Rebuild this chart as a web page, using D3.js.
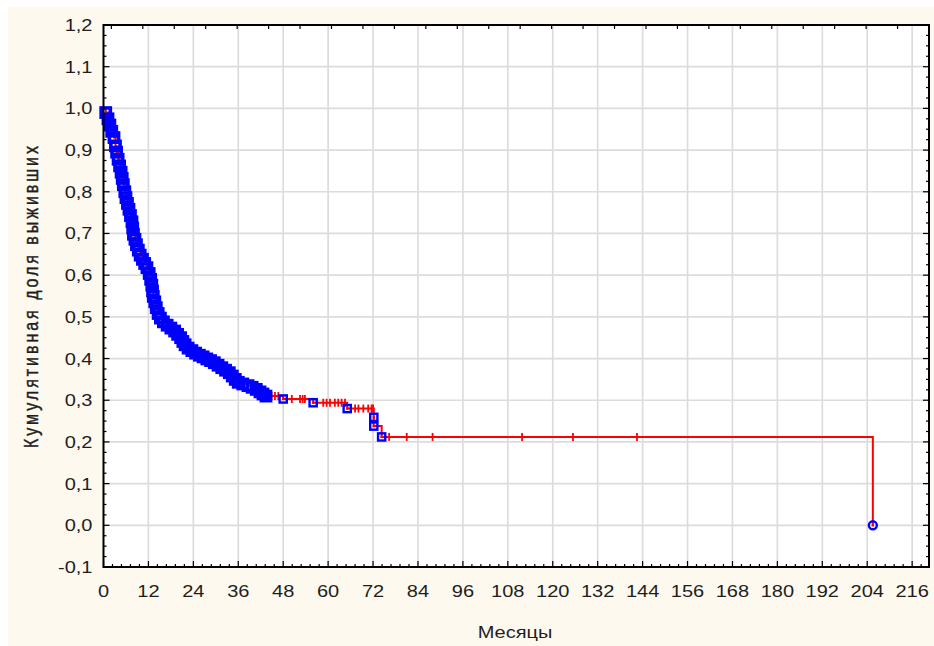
<!DOCTYPE html>
<html><head><meta charset="utf-8">
<script src="https://cdn.jsdelivr.net/npm/d3@7"></script>
<style>body{margin:0;background:#fff}svg{display:block}text{font-family:"Liberation Sans",Arial,sans-serif;fill:#1e1e1e}</style>
</head><body>
<svg id="c" width="934" height="646"></svg>
<script>
// ---- data ----
const xTicks = [0,12,24,36,48,60,72,84,96,108,120,132,144,156,168,180,192,204,216];
const yTicks = [-0.1,0,0.1,0.2,0.3,0.4,0.5,0.6,0.7,0.8,0.9,1.0,1.1,1.2];
const xTitle = "Месяцы";
const yTitle = "Кумулятивная доля выживших";
// complete (event) observations: time in months, cumulative survival after event
const eventTimes = [0.6,1.2,1.7,2.2,2.8,3.2,3.5,3.9,4.3,4.7,5.0,5.3,5.7,6.0,6.4,6.8,7.2,7.6,7.8,8.0,8.4,8.8,9.3,9.8,10.4,11.0,11.6,12.2,12.6,12.9,13.1,13.3,13.7,14.1,14.6,15.2,16.0,17.0,18.0,19.0,19.8,20.6,21.2,21.8,22.6,23.6,24.6,25.6,26.6,27.6,28.6,29.6,30.6,31.6,32.6,33.6,34.4,35.2,36.0,37.2,38.6,39.7,40.8,41.8,42.6,43.4,48.0,56.0,65.1,72.2,72.2,74.3,205.5];
const eventSurv  = [0.99,0.975,0.96,0.945,0.93,0.91,0.895,0.878,0.862,0.847,0.832,0.817,0.80,0.786,0.772,0.758,0.743,0.728,0.713,0.698,0.686,0.673,0.66,0.648,0.638,0.628,0.618,0.604,0.59,0.576,0.562,0.549,0.536,0.522,0.508,0.497,0.488,0.48,0.473,0.466,0.458,0.45,0.441,0.433,0.425,0.419,0.413,0.408,0.404,0.399,0.395,0.39,0.384,0.378,0.372,0.366,0.358,0.35,0.343,0.339,0.335,0.331,0.326,0.32,0.315,0.31,0.303,0.294,0.28,0.259,0.238,0.212,0.0];
// censored observations: time in months
const censorTimes = [44.9,45.8,46.7,50.3,52.5,53.2,53.8,58.7,59.6,60.5,61.8,62.7,63.6,64.5,67.2,68.1,69.4,70.7,71.6,72.0,76.3,81.0,87.9,111.8,125.4,142.5];

// ---- layout ----
const svg = d3.select("#c");
const L = 103.5, R = 929, T = 25, B = 567;
const x = d3.scaleLinear().domain([0, 220.5]).range([L, R]);
const y = d3.scaleLinear().domain([-0.1, 1.2]).range([B, T]);
const cream = "#fdf9ee";

svg.append("rect").attr("x",8).attr("y",7).attr("width",926).attr("height",639).attr("fill",cream);
svg.append("rect").attr("x",L).attr("y",T).attr("width",R-L).attr("height",B-T).attr("fill","#fff");

// grid
const grid = svg.append("g").attr("stroke","#dcdcdc").attr("stroke-width",1.7);
grid.selectAll("line.v").data(xTicks.filter(d=>d>0)).join("line")
  .attr("x1",d=>x(d)).attr("x2",d=>x(d)).attr("y1",T).attr("y2",B);
grid.selectAll("line.h").data(yTicks.filter(d=>d>-0.1 && d<1.2)).join("line")
  .attr("y1",d=>y(d)).attr("y2",d=>y(d)).attr("x1",L).attr("x2",R);

// frame ticks
const tk = svg.append("g").attr("stroke","#000").attr("stroke-width",1.2);
const yMinor = d3.range(-0.1, 1.2001, 0.025);
yMinor.forEach(v=>{
  const major = Math.abs(Math.round(v*10)-v*10) < 1e-6;
  const len = major ? 6 : 3;
  tk.append("line").attr("x1",L).attr("x2",L+len).attr("y1",y(v)).attr("y2",y(v));
  tk.append("line").attr("x1",R).attr("x2",R-len).attr("y1",y(v)).attr("y2",y(v));
});
const xMinor = d3.range(0, 220.5, 2.4);
xMinor.forEach(v=>{
  const major = Math.abs(v/12 - Math.round(v/12)) < 1e-6;
  const len = major ? 6 : 3;
  tk.append("line").attr("x1",x(v)).attr("x2",x(v)).attr("y1",B).attr("y2",B-len);
});
// secondary top scale ticks
const x2 = d3.scaleLinear().domain([-0.25, 26]).range([L, R]);
d3.range(0, 26).forEach(k=>{
  tk.append("line").attr("x1",x2(k)).attr("x2",x2(k)).attr("y1",T).attr("y2",T+4);
});

// KM step line
let pts = [[0,1]];
let prev = 1;
eventTimes.forEach((t,i)=>{ pts.push([t,prev]); pts.push([t,eventSurv[i]]); prev = eventSurv[i]; });
const line = d3.line().x(d=>x(d[0])).y(d=>y(d[1]));
svg.append("path").attr("d",line(pts)).attr("fill","none").attr("stroke","#ff0000").attr("stroke-width",2);

function survAt(t){ let s=1; eventTimes.forEach((e,i)=>{ if(e<=t) s=eventSurv[i]; }); return s; }

// censored marks
svg.append("g").selectAll("line").data(censorTimes).join("line")
  .attr("x1",d=>x(d)).attr("x2",d=>x(d))
  .attr("y1",d=>y(survAt(d))-4).attr("y2",d=>y(survAt(d))+4)
  .attr("stroke","#ff0000").attr("stroke-width",1.8);

// event markers: blue hollow squares (the last one a circle); dense ones overlap into a solid band
const n = eventTimes.length;
const ev = eventTimes.map((t,i)=>{
  const gap = Math.min(i>0 ? Math.hypot(x(t)-x(eventTimes[i-1]), y(eventSurv[i])-y(eventSurv[i-1])) : 99,
                       i<n-1 ? Math.hypot(x(eventTimes[i+1])-x(t), y(eventSurv[i+1])-y(eventSurv[i])) : 99);
  return {t, s:eventSurv[i], last:i===n-1, dense: gap < 8};
});
const mk = svg.append("g").selectAll("g").data(ev).join("g")
  .attr("transform",d=>`translate(${x(d.t)},${y(d.s)})`);
mk.filter(d=>!d.last).append("rect")
  .attr("x",d=>d.dense?-4.6:-3.6).attr("y",d=>d.dense?-4.6:-3.6)
  .attr("width",d=>d.dense?9.2:7.2).attr("height",d=>d.dense?9.2:7.2)
  .attr("fill","none").attr("stroke","#0000ff").attr("stroke-width",d=>d.dense?3.6:2.4);
mk.filter(d=>d.last).append("circle").attr("r",4)
  .attr("fill","none").attr("stroke","#0000ff").attr("stroke-width",2.4);
mk.filter(d=>!d.dense).append("rect").attr("x",-1.2).attr("y",-1.2).attr("width",2.4).attr("height",2.4).attr("fill","#ff0000");

// frame
svg.append("rect").attr("x",L).attr("y",T).attr("width",R-L).attr("height",B-T)
  .attr("fill","none").attr("stroke","#000").attr("stroke-width",2);

// labels
function stretch(sel, k){ sel.each(function(){ const w=this.getComputedTextLength(); d3.select(this).attr("textLength",w*k).attr("lengthAdjust","spacingAndGlyphs"); }); }
const fmt = v => d3.format(".1f")(v).replace(".",",").replace("−","-");
const yl = svg.append("g").selectAll("text").data(yTicks).join("text")
  .attr("x",92.5).attr("y",d=>y(d)+6).attr("text-anchor","end").attr("font-size",16).text(fmt);
stretch(yl,1.25);
const xl = svg.append("g").selectAll("text").data(xTicks).join("text")
  .attr("x",d=>x(d)).attr("y",597).attr("text-anchor","middle").attr("font-size",16).text(d=>d);
stretch(xl,1.25);
const xt = svg.append("text").attr("x",515).attr("y",638).attr("text-anchor","middle").attr("font-size",16).text(xTitle);
stretch(xt,1.25);
svg.append("g").attr("transform","translate(38,297) scale(1.25,1) rotate(-90)")
  .append("text").attr("x",0).attr("y",0).attr("text-anchor","middle").attr("font-size",16)
  .attr("stroke","#1e1e1e").attr("stroke-width",0.35)
  .attr("textLength",302).attr("lengthAdjust","spacing").text(yTitle);
</script>
</body></html>
